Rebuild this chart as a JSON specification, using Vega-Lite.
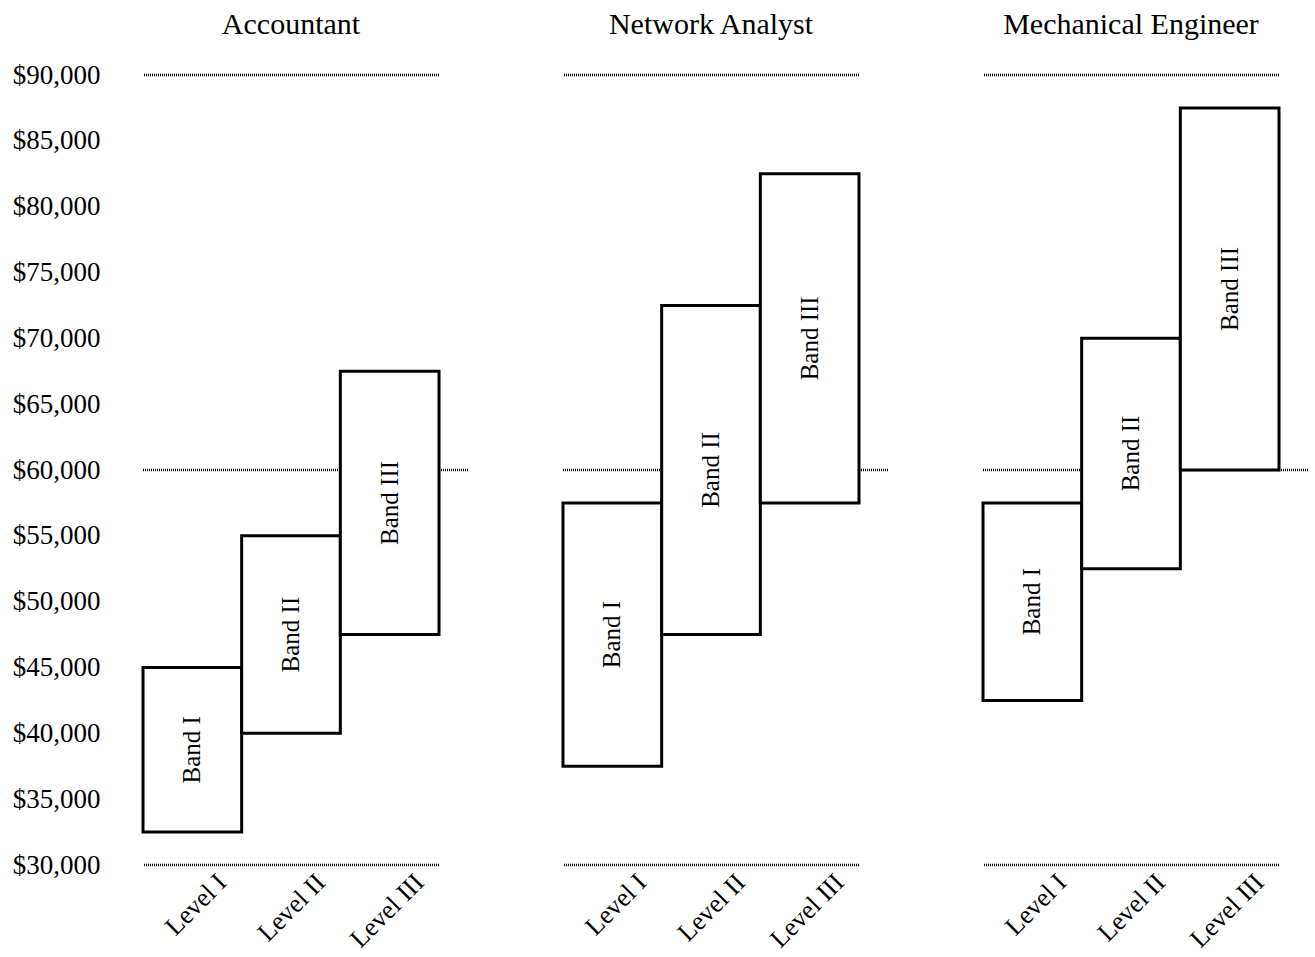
{
  "$schema": "https://vega.github.io/schema/vega-lite/v6.json",
  "padding": {"left": 12, "top": 10, "right": 5, "bottom": 0},
  "background": "white",
  "data": {
    "values": [
      {"job": "Accountant", "level": "Level I", "band": "Band I", "low": 32500, "high": 45000},
      {"job": "Accountant", "level": "Level II", "band": "Band II", "low": 40000, "high": 55000},
      {"job": "Accountant", "level": "Level III", "band": "Band III", "low": 47500, "high": 67500},
      {"job": "Network Analyst", "level": "Level I", "band": "Band I", "low": 37500, "high": 57500},
      {"job": "Network Analyst", "level": "Level II", "band": "Band II", "low": 47500, "high": 72500},
      {"job": "Network Analyst", "level": "Level III", "band": "Band III", "low": 57500, "high": 82500},
      {"job": "Mechanical Engineer", "level": "Level I", "band": "Band I", "low": 42500, "high": 57500},
      {"job": "Mechanical Engineer", "level": "Level II", "band": "Band II", "low": 52500, "high": 70000},
      {"job": "Mechanical Engineer", "level": "Level III", "band": "Band III", "low": 60000, "high": 87500}
    ]
  },
  "facet": {
    "column": {
      "field": "job",
      "type": "nominal",
      "sort": ["Accountant", "Network Analyst", "Mechanical Engineer"],
      "header": {
        "title": null,
        "labelFont": "Liberation Serif",
        "labelFontSize": 30,
        "labelColor": "black",
        "labelPadding": 35
      }
    }
  },
  "bounds": "flush",
  "spacing": 124,
  "spec": {
    "width": 296,
    "height": 790,
    "layer": [
      {
        "transform": [{"filter": "datum.level === 'Level I'"}],
        "mark": {"type": "rule", "strokeDash": [1, 1], "strokeWidth": 2.5, "color": "black"},
        "encoding": {"y": {"datum": 90000, "type": "quantitative"}}
      },
      {
        "transform": [{"filter": "datum.level === 'Level I'"}],
        "mark": {"type": "rule", "strokeDash": [1, 1], "strokeWidth": 2.5, "color": "black"},
        "encoding": {"y": {"datum": 30000, "type": "quantitative"}}
      },
      {
        "transform": [{"filter": "datum.level === 'Level I'"}],
        "mark": {"type": "rule", "strokeDash": [1, 1], "strokeWidth": 2.5, "color": "black", "x2Offset": 30},
        "encoding": {
          "x": {"datum": "Level I", "type": "ordinal", "bandPosition": 0},
          "x2": {"datum": "Level III", "bandPosition": 1},
          "y": {"datum": 60000, "type": "quantitative"}
        }
      },
      {
        "mark": {"type": "bar", "fill": "white", "stroke": "black", "strokeWidth": 3},
        "encoding": {
          "x": {
            "field": "level",
            "type": "ordinal",
            "sort": ["Level I", "Level II", "Level III"],
            "scale": {"paddingInner": 0, "paddingOuter": 0},
            "axis": {
              "title": null,
              "domain": false,
              "ticks": false,
              "labelAngle": -45,
              "labelFont": "Liberation Serif",
              "labelFontSize": 26,
              "labelColor": "black",
              "labelPadding": 13,
              "labelOffset": 30
            }
          },
          "y": {
            "field": "low",
            "type": "quantitative",
            "scale": {"domain": [30000, 90000], "nice": false, "zero": false},
            "axis": {
              "title": null,
              "values": [30000, 35000, 40000, 45000, 50000, 55000, 60000, 65000, 70000, 75000, 80000, 85000, 90000],
              "format": "$,.0f",
              "domain": false,
              "ticks": false,
              "grid": false,
              "labelFont": "Liberation Serif",
              "labelFontSize": 27,
              "labelColor": "black",
              "labelPadding": 43
            }
          },
          "y2": {"field": "high"}
        }
      },
      {
        "transform": [{"fold": ["low", "high"], "as": ["edge", "amount"]}],
        "mark": {"type": "text", "angle": 270, "font": "Liberation Serif", "fontSize": 25, "color": "black", "align": "center", "baseline": "middle"},
        "encoding": {
          "x": {"field": "level", "type": "ordinal", "sort": ["Level I", "Level II", "Level III"]},
          "y": {"aggregate": "mean", "field": "amount", "type": "quantitative"},
          "text": {"field": "band", "type": "nominal"}
        }
      }
    ]
  },
  "config": {
    "view": {"stroke": null},
    "font": "Liberation Serif"
  }
}
